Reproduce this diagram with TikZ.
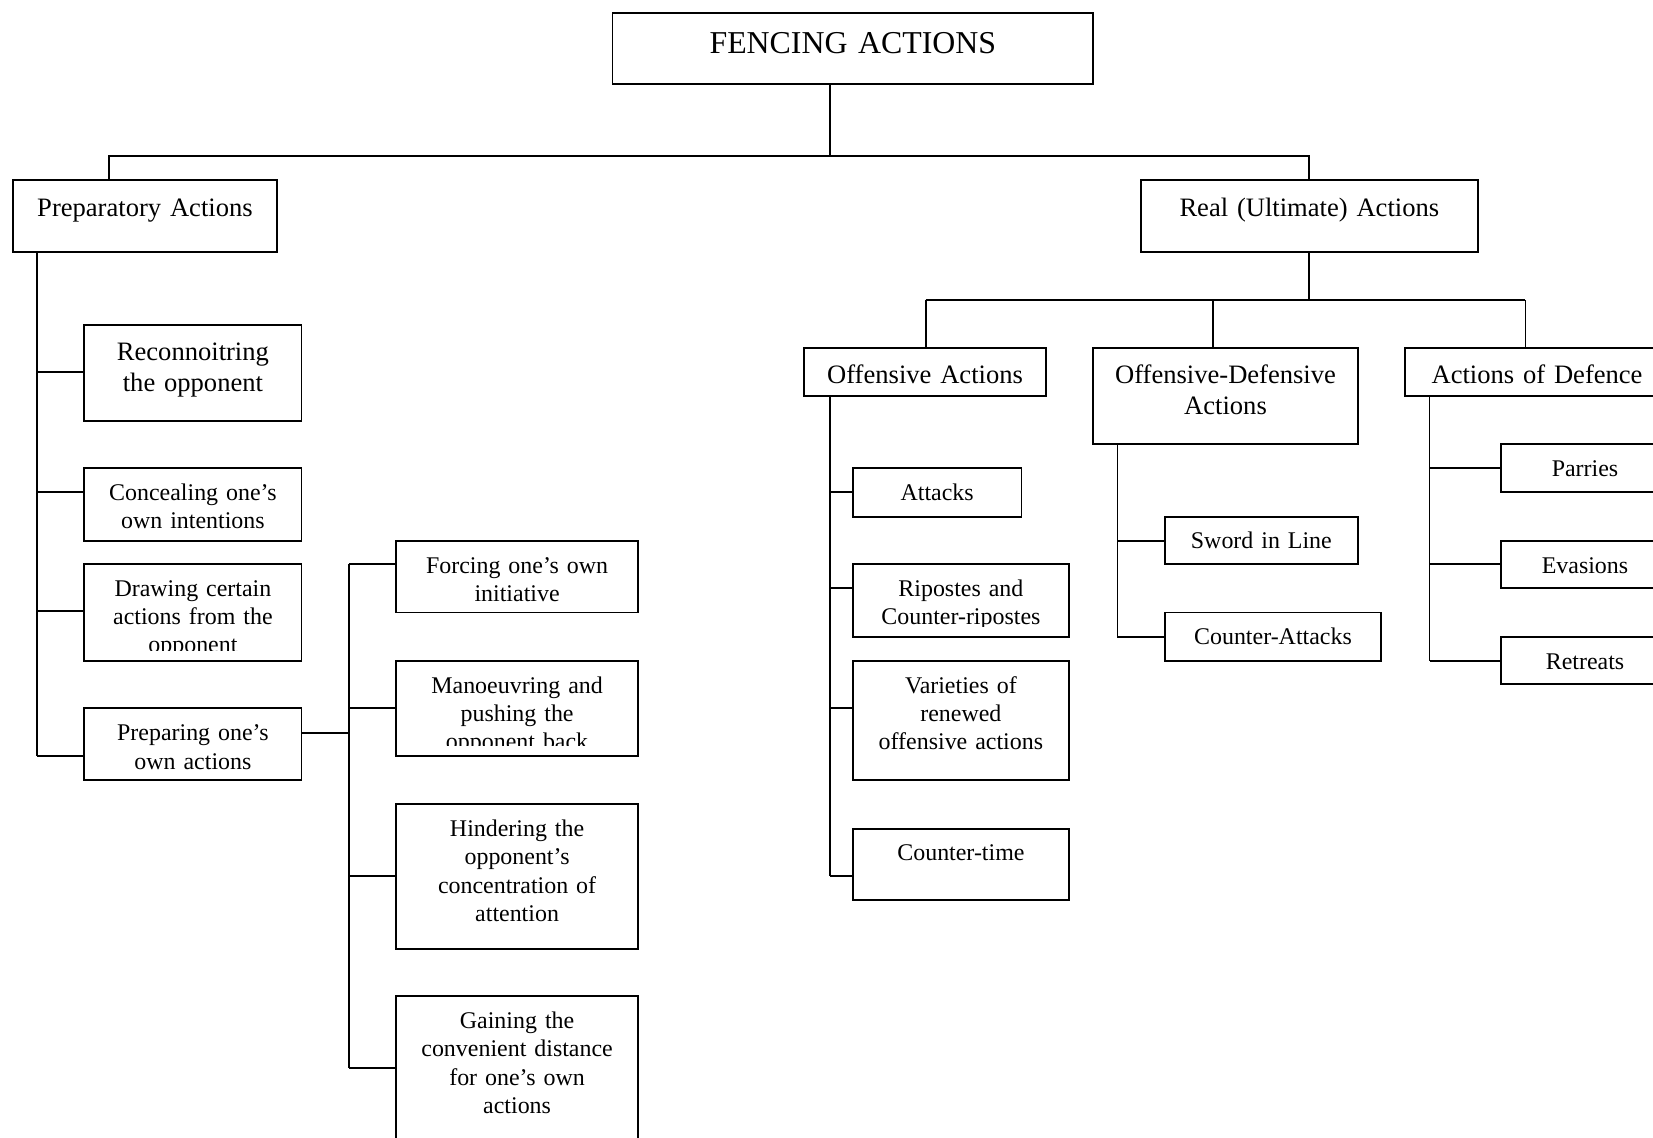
\documentclass[tikz,border=0pt]{standalone}
\usepackage{fontspec}
\setmainfont{Liberation Serif}
\usetikzlibrary{fit}
% boxes with text set from the top, clipped a little above the bottom line
\tikzset{
  boxtxt/.style n args={3}{draw, line width=0.9pt, inner sep=0pt, outer sep=0pt,
    path picture={
      \clip ([yshift=5pt]path picture bounding box.south west) rectangle (path picture bounding box.north east);
      \node[anchor=base, align=center, inner sep=0pt, font=#1]
        at ([yshift=-#2]path picture bounding box.north) {#3};}},
  titlebox/.style={boxtxt={\fontsize{15.1}{17.3}\selectfont}{19.3pt}{#1}},
  headbox/.style={boxtxt={\fontsize{12.6}{14.5}\selectfont}{17pt}{#1}},
  subbox/.style={boxtxt={\fontsize{11.35}{13.4}\selectfont}{15.35pt}{#1}},
  conn/.style={line width=0.9pt},
}

\begin{document}
\begin{tikzpicture}[x=0.5pt,y=-0.5pt]
	\useasboundingbox (0,0) rectangle (1568,1079);
	\clip (0,0) rectangle (1568,1079);
	% top levels
	\node[titlebox={FENCING ACTIONS}, fit={(581,12) (1037,80)}] (fencing) {};
	\node[headbox={Preparatory Actions}, fit={(12,171) (263,239)}] (prep) {};
	\node[headbox={Real (Ultimate) Actions}, fit={(1082,171) (1402,239)}] (real) {};
	% preparatory actions
	\node[headbox={Reconnoitring\\the opponent}, fit={(80,308) (286,399)}] (recon) {};
	\node[subbox={Concealing one’s\\own intentions}, fit={(80,444) (286,513)}] (conceal) {};
	\node[subbox={Drawing certain\\actions from the\\opponent}, fit={(80,535) (286,627)}] (drawing) {};
	\node[subbox={Preparing one’s\\own actions}, fit={(80,672) (286,740)}] (preparing) {};
	\node[subbox={Forcing one’s own\\initiative}, fit={(376,513) (605,581)}] (forcing) {};
	\node[subbox={Manoeuvring and\\pushing the\\opponent back}, fit={(376,627) (605,717)}] (manoeuv) {};
	\node[subbox={Hindering the\\opponent’s\\concentration of\\attention}, fit={(376,763) (605,900)}] (hinder) {};
	\node[subbox={Gaining the\\convenient distance\\for one’s own\\actions}, fit={(376,945) (605,1082)}] (gain) {};
	% real actions
	\node[headbox={Offensive Actions}, fit={(763,330) (992,376)}] (offens) {};
	\node[headbox={Offensive-Defensive\\Actions}, fit={(1037,330) (1288,421)}] (offdef) {};
	\node[headbox={Actions of Defence}, fit={(1333,330) (1583,376)}] (defence) {};
	\node[subbox={Attacks}, fit={(809,444) (969,490)}] (attacks) {};
	\node[subbox={Ripostes and\\Counter-ripostes}, fit={(809,535) (1014,604)}] (ripostes) {};
	\node[subbox={Varieties of\\renewed\\offensive actions}, fit={(809,627) (1014,740)}] (varieties) {};
	\node[subbox={Counter-time}, fit={(809,786) (1014,854)}] (ctime) {};
	\node[subbox={Sword in Line}, fit={(1105,490) (1288,535)}] (sword) {};
	\node[subbox={Counter-Attacks}, fit={(1105,581) (1310,627)}] (cattacks) {};
	\node[subbox={Parries}, fit={(1424,421) (1583,467)}] (parries) {};
	\node[subbox={Evasions}, fit={(1424,513) (1583,558)}] (evasions) {};
	\node[subbox={Retreats}, fit={(1424,604) (1583,649)}] (retreats) {};

	% junctions
	\coordinate (tb0) at (787,148);
	\coordinate (tb1) at (103,148);
	\coordinate (pb1) at (35,353);
	\coordinate (pb2) at (35,467);
	\coordinate (pb3) at (35,580);
	\coordinate (pb4) at (35,717);
	\coordinate (qb0) at (331,695);
	\coordinate (qb1) at (331,535);
	\coordinate (qb2) at (331,672);
	\coordinate (qb3) at (331,831);
	\coordinate (qb4) at (331,1013);
	\coordinate (rb1) at (878,285);
	\coordinate (rb2) at (1151,285);
	\coordinate (rb3) at (1447,285);
	\coordinate (ob1) at (787,467);
	\coordinate (ob2) at (787,558);
	\coordinate (ob3) at (787,672);
	\coordinate (ob4) at (787,831);
	\coordinate (db1) at (1060,513);
	\coordinate (db2) at (1060,604);
	\coordinate (eb1) at (1356,444);
	\coordinate (eb2) at (1356,535);
	\coordinate (eb3) at (1356,627);

	% connectors
	\draw[conn] (fencing.south -| tb0) -- (tb0);
	\draw[conn] (prep.north -| tb1) |- (real.north |- tb1) -- (real.north);
	\draw[conn] (prep.south -| pb1) -- (pb4);
	\draw[conn] (pb1) -- (recon.west |- pb1);
	\draw[conn] (pb2) -- (conceal.west |- pb2);
	\draw[conn] (pb3) -- (drawing.west |- pb3);
	\draw[conn] (pb4) -- (preparing.west |- pb4);
	\draw[conn] (preparing.east |- qb0) -- (qb0);
	\draw[conn] (qb1) -- (qb4);
	\draw[conn] (qb1) -- (forcing.west |- qb1);
	\draw[conn] (qb2) -- (manoeuv.west |- qb2);
	\draw[conn] (qb3) -- (hinder.west |- qb3);
	\draw[conn] (qb4) -- (gain.west |- qb4);
	\draw[conn] (real.south) -- (real.south |- rb1);
	\draw[conn] (rb1) -- (rb3);
	\draw[conn] (rb1) -- (offens.north -| rb1);
	\draw[conn] (rb2) -- (offdef.north -| rb2);
	\draw[conn] (rb3) -- (defence.north -| rb3);
	\draw[conn] (offens.south -| ob1) -- (ob4);
	\draw[conn] (ob1) -- (attacks.west |- ob1);
	\draw[conn] (ob2) -- (ripostes.west |- ob2);
	\draw[conn] (ob3) -- (varieties.west |- ob3);
	\draw[conn] (ob4) -- (ctime.west |- ob4);
	\draw[conn] (offdef.south -| db1) -- (db2);
	\draw[conn] (db1) -- (sword.west |- db1);
	\draw[conn] (db2) -- (cattacks.west |- db2);
	\draw[conn] (defence.south -| eb1) -- (eb3);
	\draw[conn] (eb1) -- (parries.west |- eb1);
	\draw[conn] (eb2) -- (evasions.west |- eb2);
	\draw[conn] (eb3) -- (retreats.west |- eb3);
\end{tikzpicture}
\end{document}
